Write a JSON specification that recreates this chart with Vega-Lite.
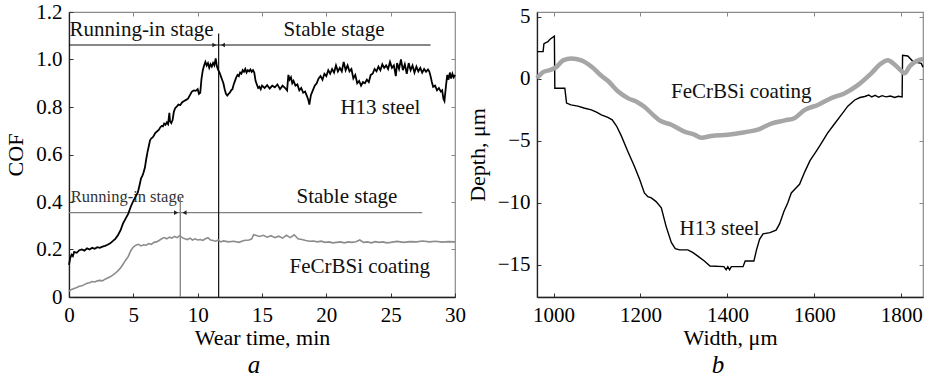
{
  "$schema": "https://vega.github.io/schema/vega-lite/v6.json",
  "padding": {"left": 4, "top": 0, "right": 2, "bottom": 2},
  "background": "white",
  "config": {
    "font": "'Liberation Serif', 'Times New Roman', Times, serif",
    "view": {"stroke": "#8a8a8a", "strokeWidth": 1.2},
    "axis": {"labelFont": "'Liberation Serif', 'Times New Roman', Times, serif", "titleFont": "'Liberation Serif', 'Times New Roman', Times, serif", "labelFontSize": 21, "titleFontSize": 22, "titleFontWeight": "normal", "labelColor": "#000", "titleColor": "#000", "grid": false, "domainColor": "#222", "domainWidth": 1.3, "tickColor": "#333", "tickSize": -4, "labelPadding": 11, "labelFlush": false, "labelOverlap": false},
    "title": {"font": "'Liberation Serif', 'Times New Roman', Times, serif"},
    "text": {"font": "'Liberation Serif', 'Times New Roman', Times, serif"}
  },
  "datasets": {
    "h13a": [
      {"t":0,"c":0.135},{"t":0.1,"c":0.165},{"t":0.2,"c":0.178},{"t":0.3,"c":0.172},{"t":0.4,"c":0.19},{"t":0.6,"c":0.186},{"t":0.8,"c":0.197},{"t":1.0,"c":0.2},{"t":1.2,"c":0.195},{"t":1.4,"c":0.205},{"t":1.6,"c":0.2},{"t":1.8,"c":0.207},{"t":2.0,"c":0.203},{"t":2.2,"c":0.21},{"t":2.4,"c":0.207},{"t":2.6,"c":0.212},{"t":2.8,"c":0.215},{"t":3.0,"c":0.22},{"t":3.2,"c":0.226},{"t":3.4,"c":0.235},{"t":3.6,"c":0.245},{"t":3.8,"c":0.26},{"t":4.0,"c":0.28},{"t":4.2,"c":0.31},{"t":4.4,"c":0.33},{"t":4.6,"c":0.35},{"t":4.8,"c":0.38},{"t":5.0,"c":0.405},{"t":5.2,"c":0.425},{"t":5.35,"c":0.44},{"t":5.5,"c":0.475},{"t":5.6,"c":0.5},{"t":5.7,"c":0.51},{"t":5.8,"c":0.525},{"t":5.9,"c":0.545},{"t":6.0,"c":0.58},{"t":6.1,"c":0.61},{"t":6.2,"c":0.635},{"t":6.3,"c":0.66},{"t":6.4,"c":0.668},{"t":6.5,"c":0.672},{"t":6.6,"c":0.68},{"t":6.7,"c":0.69},{"t":6.8,"c":0.695},{"t":6.9,"c":0.7},{"t":7.0,"c":0.705},{"t":7.1,"c":0.715},{"t":7.2,"c":0.72},{"t":7.3,"c":0.718},{"t":7.4,"c":0.73},{"t":7.5,"c":0.725},{"t":7.6,"c":0.735},{"t":7.7,"c":0.728},{"t":7.8,"c":0.775},{"t":7.85,"c":0.74},{"t":7.95,"c":0.732},{"t":8.05,"c":0.745},{"t":8.15,"c":0.78},{"t":8.25,"c":0.795},{"t":8.35,"c":0.8},{"t":8.5,"c":0.81},{"t":8.65,"c":0.808},{"t":8.8,"c":0.82},{"t":8.95,"c":0.825},{"t":9.1,"c":0.83},{"t":9.25,"c":0.835},{"t":9.4,"c":0.85},{"t":9.55,"c":0.865},{"t":9.7,"c":0.87},{"t":9.85,"c":0.868},{"t":10.0,"c":0.875},{"t":10.1,"c":0.855},{"t":10.2,"c":0.86},{"t":10.3,"c":0.92},{"t":10.4,"c":0.955},{"t":10.5,"c":0.975},{"t":10.6,"c":0.99},{"t":10.7,"c":0.975},{"t":10.8,"c":0.985},{"t":10.9,"c":0.965},{"t":11.0,"c":0.98},{"t":11.1,"c":0.97},{"t":11.2,"c":0.985},{"t":11.3,"c":0.975},{"t":11.4,"c":1.005},{"t":11.5,"c":0.97},{"t":11.6,"c":0.955},{"t":11.7,"c":0.945},{"t":11.8,"c":0.93},{"t":11.9,"c":0.915},{"t":12.0,"c":0.9},{"t":12.1,"c":0.875},{"t":12.2,"c":0.855},{"t":12.3,"c":0.848},{"t":12.4,"c":0.855},{"t":12.5,"c":0.86},{"t":12.6,"c":0.87},{"t":12.7,"c":0.875},{"t":12.8,"c":0.895},{"t":12.9,"c":0.91},{"t":13.0,"c":0.925},{"t":13.1,"c":0.935},{"t":13.2,"c":0.93},{"t":13.3,"c":0.945},{"t":13.4,"c":0.94},{"t":13.5,"c":0.955},{"t":13.6,"c":0.948},{"t":13.7,"c":0.96},{"t":13.8,"c":0.945},{"t":13.9,"c":0.955},{"t":14.0,"c":0.95},{"t":14.1,"c":0.958},{"t":14.2,"c":0.948},{"t":14.3,"c":0.955},{"t":14.4,"c":0.945},{"t":14.5,"c":0.91},{"t":14.6,"c":0.895},{"t":14.7,"c":0.88},{"t":14.8,"c":0.885},{"t":14.9,"c":0.875},{"t":15.0,"c":0.89},{"t":15.2,"c":0.88},{"t":15.4,"c":0.892},{"t":15.6,"c":0.878},{"t":15.8,"c":0.89},{"t":16.0,"c":0.883},{"t":16.2,"c":0.895},{"t":16.4,"c":0.875},{"t":16.6,"c":0.89},{"t":16.8,"c":0.88},{"t":16.95,"c":0.87},{"t":17.05,"c":0.935},{"t":17.15,"c":0.915},{"t":17.25,"c":0.925},{"t":17.35,"c":0.9},{"t":17.45,"c":0.91},{"t":17.6,"c":0.89},{"t":17.75,"c":0.895},{"t":17.9,"c":0.87},{"t":18.05,"c":0.88},{"t":18.2,"c":0.86},{"t":18.35,"c":0.865},{"t":18.5,"c":0.845},{"t":18.6,"c":0.83},{"t":18.68,"c":0.81},{"t":18.8,"c":0.85},{"t":18.95,"c":0.87},{"t":19.1,"c":0.89},{"t":19.25,"c":0.9},{"t":19.4,"c":0.92},{"t":19.55,"c":0.93},{"t":19.7,"c":0.915},{"t":19.85,"c":0.94},{"t":20.0,"c":0.93},{"t":20.15,"c":0.955},{"t":20.3,"c":0.94},{"t":20.45,"c":0.96},{"t":20.6,"c":0.945},{"t":20.75,"c":0.975},{"t":20.9,"c":0.95},{"t":21.05,"c":0.965},{"t":21.2,"c":0.95},{"t":21.35,"c":0.99},{"t":21.5,"c":0.955},{"t":21.65,"c":0.975},{"t":21.8,"c":0.95},{"t":21.95,"c":0.96},{"t":22.1,"c":0.92},{"t":22.25,"c":0.935},{"t":22.4,"c":0.9},{"t":22.55,"c":0.91},{"t":22.7,"c":0.89},{"t":22.85,"c":0.905},{"t":23.0,"c":0.9},{"t":23.15,"c":0.915},{"t":23.3,"c":0.905},{"t":23.45,"c":0.935},{"t":23.6,"c":0.94},{"t":23.75,"c":0.96},{"t":23.9,"c":0.95},{"t":24.05,"c":0.97},{"t":24.2,"c":0.955},{"t":24.35,"c":0.98},{"t":24.5,"c":0.965},{"t":24.65,"c":0.975},{"t":24.8,"c":0.96},{"t":24.95,"c":0.99},{"t":25.1,"c":0.965},{"t":25.25,"c":0.975},{"t":25.4,"c":0.93},{"t":25.5,"c":0.985},{"t":25.65,"c":0.96},{"t":25.8,"c":1.0},{"t":25.95,"c":0.955},{"t":26.1,"c":0.98},{"t":26.25,"c":0.94},{"t":26.4,"c":0.985},{"t":26.55,"c":0.955},{"t":26.7,"c":0.975},{"t":26.85,"c":0.945},{"t":27.0,"c":0.97},{"t":27.15,"c":0.95},{"t":27.3,"c":0.965},{"t":27.45,"c":0.945},{"t":27.6,"c":0.96},{"t":27.75,"c":0.948},{"t":27.9,"c":0.958},{"t":28.0,"c":0.95},{"t":28.1,"c":0.93},{"t":28.2,"c":0.905},{"t":28.3,"c":0.885},{"t":28.45,"c":0.89},{"t":28.6,"c":0.87},{"t":28.75,"c":0.88},{"t":28.9,"c":0.865},{"t":29.0,"c":0.87},{"t":29.1,"c":0.835},{"t":29.18,"c":0.825},{"t":29.3,"c":0.89},{"t":29.4,"c":0.935},{"t":29.5,"c":0.915},{"t":29.6,"c":0.945},{"t":29.7,"c":0.92},{"t":29.8,"c":0.94},{"t":29.9,"c":0.925},{"t":30.0,"c":0.935}
    ],
    "fea": [
      {"t":0,"c":0.025},{"t":0.2,"c":0.032},{"t":0.4,"c":0.036},{"t":0.6,"c":0.04},{"t":0.8,"c":0.045},{"t":1.0,"c":0.047},{"t":1.2,"c":0.052},{"t":1.4,"c":0.058},{"t":1.6,"c":0.06},{"t":1.8,"c":0.065},{"t":2.0,"c":0.063},{"t":2.2,"c":0.068},{"t":2.4,"c":0.07},{"t":2.6,"c":0.068},{"t":2.8,"c":0.075},{"t":3.0,"c":0.08},{"t":3.2,"c":0.085},{"t":3.4,"c":0.092},{"t":3.6,"c":0.1},{"t":3.8,"c":0.11},{"t":4.0,"c":0.122},{"t":4.2,"c":0.138},{"t":4.4,"c":0.155},{"t":4.6,"c":0.17},{"t":4.8,"c":0.195},{"t":5.0,"c":0.21},{"t":5.2,"c":0.218},{"t":5.4,"c":0.222},{"t":5.6,"c":0.215},{"t":5.8,"c":0.22},{"t":6.0,"c":0.218},{"t":6.2,"c":0.225},{"t":6.4,"c":0.222},{"t":6.6,"c":0.23},{"t":6.8,"c":0.232},{"t":7.0,"c":0.238},{"t":7.2,"c":0.245},{"t":7.4,"c":0.25},{"t":7.6,"c":0.245},{"t":7.8,"c":0.252},{"t":8.0,"c":0.248},{"t":8.2,"c":0.255},{"t":8.4,"c":0.25},{"t":8.6,"c":0.258},{"t":8.8,"c":0.25},{"t":9.0,"c":0.245},{"t":9.2,"c":0.242},{"t":9.4,"c":0.248},{"t":9.6,"c":0.24},{"t":9.8,"c":0.245},{"t":10.0,"c":0.24},{"t":10.2,"c":0.242},{"t":10.4,"c":0.238},{"t":10.6,"c":0.245},{"t":10.8,"c":0.25},{"t":11.0,"c":0.24},{"t":11.2,"c":0.238},{"t":11.4,"c":0.235},{"t":11.6,"c":0.24},{"t":11.8,"c":0.232},{"t":12.0,"c":0.236},{"t":12.4,"c":0.232},{"t":12.8,"c":0.235},{"t":13.2,"c":0.23},{"t":13.6,"c":0.238},{"t":14.0,"c":0.24},{"t":14.2,"c":0.245},{"t":14.35,"c":0.262},{"t":14.5,"c":0.26},{"t":14.8,"c":0.255},{"t":15.1,"c":0.26},{"t":15.4,"c":0.252},{"t":15.7,"c":0.258},{"t":16.0,"c":0.25},{"t":16.3,"c":0.256},{"t":16.6,"c":0.248},{"t":16.9,"c":0.26},{"t":17.2,"c":0.25},{"t":17.5,"c":0.262},{"t":17.8,"c":0.245},{"t":18.1,"c":0.242},{"t":18.4,"c":0.238},{"t":18.7,"c":0.235},{"t":19.0,"c":0.236},{"t":19.3,"c":0.232},{"t":19.6,"c":0.235},{"t":19.9,"c":0.23},{"t":20.2,"c":0.232},{"t":20.5,"c":0.228},{"t":20.8,"c":0.23},{"t":21.1,"c":0.232},{"t":21.4,"c":0.228},{"t":21.7,"c":0.232},{"t":22.0,"c":0.23},{"t":22.3,"c":0.233},{"t":22.6,"c":0.24},{"t":22.9,"c":0.23},{"t":23.2,"c":0.232},{"t":23.5,"c":0.228},{"t":23.8,"c":0.233},{"t":24.1,"c":0.23},{"t":24.4,"c":0.232},{"t":24.7,"c":0.228},{"t":25.0,"c":0.23},{"t":25.5,"c":0.234},{"t":26.0,"c":0.23},{"t":26.5,"c":0.233},{"t":27.0,"c":0.232},{"t":27.5,"c":0.236},{"t":28.0,"c":0.232},{"t":28.5,"c":0.235},{"t":29.0,"c":0.231},{"t":29.5,"c":0.233},{"t":30.0,"c":0.232}
    ],
    "rulesABlack": [
      {"x":0,"x2":28.1,"y":1.061,"y2":1.061},
      {"x":11.63,"x2":11.63,"y":0,"y2":1.11}
    ],
    "rulesAGrey": [
      {"x":0,"x2":27.45,"y":0.355,"y2":0.355},
      {"x":8.65,"x2":8.65,"y":0,"y2":0.42}
    ],
    "arrowsA": [
      {"t":11.3,"c":1.061,"dir":"right"},{"t":11.96,"c":1.061,"dir":"left"},
      {"t":8.32,"c":0.355,"dir":"right"},{"t":8.98,"c":0.355,"dir":"left"}
    ],
    "textA": [
      {"t":5.64,"c":1.124,"label":"Running-in stage"},
      {"t":20.6,"c":1.124,"label":"Stable stage"},
      {"t":24.2,"c":0.796,"label":"H13 steel"},
      {"t":21.6,"c":0.422,"label":"Stable stage"},
      {"t":22.6,"c":0.125,"label":"FeCrBSi coating"}
    ],
    "textASmall": [
      {"t":4.54,"c":0.422,"label":"Running-in stage"}
    ],
    "h13b": [
      {"w":962,"d":2.2},{"w":976,"d":2.2},{"w":978,"d":2.85},{"w":987,"d":3.0},{"w":992,"d":3.2},{"w":1002,"d":3.45},{"w":1003,"d":-0.75},{"w":1026,"d":-0.75},{"w":1030,"d":-1.95},{"w":1040,"d":-2.1},{"w":1056,"d":-2.2},{"w":1070,"d":-2.35},{"w":1087,"d":-2.5},{"w":1100,"d":-2.7},{"w":1110,"d":-2.9},{"w":1125,"d":-3.1},{"w":1135,"d":-3.3},{"w":1145,"d":-3.8},{"w":1156,"d":-4.6},{"w":1171,"d":-5.85},{"w":1186,"d":-7.05},{"w":1198,"d":-8.1},{"w":1209,"d":-9.2},{"w":1217,"d":-9.5},{"w":1225,"d":-9.6},{"w":1236,"d":-9.9},{"w":1248,"d":-10.4},{"w":1259,"d":-11.9},{"w":1271,"d":-13.2},{"w":1280,"d":-13.7},{"w":1290,"d":-13.8},{"w":1309,"d":-13.8},{"w":1320,"d":-14.0},{"w":1332,"d":-14.3},{"w":1347,"d":-14.7},{"w":1360,"d":-15.1},{"w":1392,"d":-15.15},{"w":1397,"d":-15.4},{"w":1401,"d":-15.15},{"w":1405,"d":-15.4},{"w":1409,"d":-15.15},{"w":1436,"d":-15.15},{"w":1441,"d":-14.7},{"w":1461,"d":-14.7},{"w":1467,"d":-13.8},{"w":1474,"d":-12.95},{"w":1482,"d":-12.5},{"w":1498,"d":-12.4},{"w":1512,"d":-12.2},{"w":1520,"d":-11.7},{"w":1530,"d":-10.7},{"w":1539,"d":-10.0},{"w":1547,"d":-9.2},{"w":1555,"d":-8.9},{"w":1566,"d":-8.5},{"w":1578,"d":-7.5},{"w":1590,"d":-6.6},{"w":1605,"d":-5.8},{"w":1616,"d":-5.2},{"w":1630,"d":-4.4},{"w":1647,"d":-3.6},{"w":1662,"d":-2.9},{"w":1677,"d":-2.2},{"w":1693,"d":-1.7},{"w":1705,"d":-1.5},{"w":1716,"d":-1.42},{"w":1725,"d":-1.3},{"w":1732,"d":-1.45},{"w":1740,"d":-1.33},{"w":1748,"d":-1.48},{"w":1756,"d":-1.35},{"w":1765,"d":-1.45},{"w":1775,"d":-1.38},{"w":1785,"d":-1.5},{"w":1793,"d":-1.4},{"w":1802,"d":-1.45},{"w":1803,"d":1.9},{"w":1815,"d":1.85},{"w":1827,"d":1.4},{"w":1846,"d":1.25},{"w":1850,"d":0.95}
    ],
    "feb": [
      {"w":962,"d":0.05},{"w":976,"d":0.55},{"w":995,"d":0.75},{"w":1006,"d":0.95},{"w":1022,"d":1.5},{"w":1041,"d":1.65},{"w":1064,"d":1.5},{"w":1087,"d":1.0},{"w":1110,"d":0.25},{"w":1125,"d":-0.15},{"w":1148,"d":-1.0},{"w":1171,"d":-1.55},{"w":1194,"d":-1.9},{"w":1209,"d":-2.25},{"w":1229,"d":-2.9},{"w":1244,"d":-3.35},{"w":1271,"d":-3.7},{"w":1301,"d":-4.25},{"w":1324,"d":-4.5},{"w":1340,"d":-4.75},{"w":1363,"d":-4.6},{"w":1401,"d":-4.5},{"w":1440,"d":-4.3},{"w":1470,"d":-4.1},{"w":1501,"d":-3.6},{"w":1532,"d":-3.35},{"w":1555,"d":-3.15},{"w":1578,"d":-2.5},{"w":1608,"d":-2.1},{"w":1639,"d":-1.55},{"w":1670,"d":-1.15},{"w":1700,"d":-0.5},{"w":1731,"d":0.45},{"w":1754,"d":1.25},{"w":1769,"d":1.5},{"w":1785,"d":1.15},{"w":1800,"d":0.65},{"w":1808,"d":0.45},{"w":1819,"d":1.0},{"w":1835,"d":1.45},{"w":1850,"d":1.6}
    ],
    "textB": [
      {"w":1432,"d":-1.07,"label":"FeCrBSi coating"},
      {"w":1382,"d":-12.1,"label":"H13 steel"}
    ]
  },
  "spacing": 82,
  "bounds": "flush",
  "hconcat": [
    {
      "width": 386,
      "height": 285,
      "title": {"text": "a", "orient": "bottom", "fontStyle": "italic", "fontWeight": "normal", "fontSize": 25, "offset": 5, "dx": -8, "color": "#000"},
      "resolve": {"axis": {"x": "independent", "y": "independent"}},
      "layer": [
        {
          "data": {"name": "textASmall"},
          "mark": {"type": "text", "fontSize": 16.5, "color": "#333", "baseline": "middle", "align": "center"},
          "encoding": {
            "x": {"field": "t", "type": "quantitative", "scale": {"domain": [0, 30], "nice": false, "zero": false}, "axis": null},
            "y": {"field": "c", "type": "quantitative", "scale": {"domain": [0, 1.2], "nice": false}, "axis": null},
            "text": {"field": "label"}
          }
        },
        {
          "data": {"name": "textA"},
          "mark": {"type": "text", "fontSize": 21, "color": "#111", "baseline": "middle", "align": "center"},
          "encoding": {
            "x": {"field": "t", "type": "quantitative", "axis": null},
            "y": {"field": "c", "type": "quantitative", "axis": null},
            "text": {"field": "label"}
          }
        },
        {
          "data": {"name": "rulesAGrey"},
          "mark": {"type": "rule", "color": "#808080", "strokeWidth": 1.3},
          "encoding": {
            "x": {"field": "x", "type": "quantitative", "axis": null},
            "x2": {"field": "x2"},
            "y": {"field": "y", "type": "quantitative", "axis": null},
            "y2": {"field": "y2"}
          }
        },
        {
          "data": {"name": "rulesABlack"},
          "mark": {"type": "rule", "color": "#111", "strokeWidth": 1.2},
          "encoding": {
            "x": {"field": "x", "type": "quantitative", "axis": null},
            "x2": {"field": "x2"},
            "y": {"field": "y", "type": "quantitative", "axis": null},
            "y2": {"field": "y2"}
          }
        },
        {
          "data": {"name": "arrowsA"},
          "mark": {"type": "point", "filled": true, "size": 22, "color": "#222", "opacity": 1},
          "encoding": {
            "x": {"field": "t", "type": "quantitative", "axis": null},
            "y": {"field": "c", "type": "quantitative", "axis": null},
            "shape": {"field": "dir", "type": "nominal", "scale": {"domain": ["right", "left"], "range": ["triangle-right", "triangle-left"]}, "legend": null}
          }
        },
        {
          "data": {"name": "fea"},
          "mark": {"type": "line", "color": "#8c8c8c", "strokeWidth": 1.6},
          "encoding": {
            "x": {"field": "t", "type": "quantitative", "axis": null},
            "y": {"field": "c", "type": "quantitative", "axis": null}
          }
        },
        {
          "data": {"name": "h13a"},
          "mark": {"type": "line", "color": "#000", "strokeWidth": 1.8},
          "encoding": {
            "x": {"field": "t", "type": "quantitative", "axis": {"orient": "bottom", "values": [0, 5, 10, 15, 20, 25, 30], "format": "d", "title": "Wear time, min", "titlePadding": 2}},
            "y": {"field": "c", "type": "quantitative", "axis": {"orient": "left", "values": [0, 0.2, 0.4, 0.6, 0.8, 1.0, 1.2], "labelExpr": "datum.value === 0 ? '0' : format(datum.value, '.1f')", "title": "COF", "titlePadding": 8}}
          }
        },
        {
          "data": {"name": "h13a"},
          "mark": {"type": "point", "opacity": 0},
          "encoding": {
            "x": {"field": "t", "type": "quantitative", "axis": {"orient": "top", "values": [5, 10, 15, 20, 25], "labels": false, "domain": false, "title": null, "tickColor": "#888"}},
            "y": {"field": "c", "type": "quantitative", "axis": {"orient": "right", "values": [0.2, 0.4, 0.6, 0.8, 1.0], "labels": false, "domain": false, "title": null, "tickColor": "#888"}}
          }
        }
      ]
    },
    {
      "width": 386,
      "height": 285,
      "title": {"text": "b", "orient": "bottom", "fontStyle": "italic", "fontWeight": "normal", "fontSize": 25, "offset": 5, "dx": -12, "color": "#000"},
      "resolve": {"axis": {"x": "independent", "y": "independent"}},
      "layer": [
        {
          "data": {"name": "textB"},
          "mark": {"type": "text", "fontSize": 21, "color": "#111", "baseline": "middle", "align": "center"},
          "encoding": {
            "x": {"field": "w", "type": "quantitative", "scale": {"domain": [962, 1850], "nice": false, "zero": false}, "axis": null},
            "y": {"field": "d", "type": "quantitative", "scale": {"domain": [-17.6, 5.4], "nice": false, "zero": false}, "axis": null},
            "text": {"field": "label"}
          }
        },
        {
          "data": {"name": "h13b"},
          "mark": {"type": "line", "color": "#000", "strokeWidth": 1.4},
          "encoding": {
            "x": {"field": "w", "type": "quantitative", "axis": {"orient": "bottom", "values": [1000, 1200, 1400, 1600, 1800], "format": "d", "title": "Width, μm", "titlePadding": 2}},
            "y": {"field": "d", "type": "quantitative", "axis": {"orient": "left", "values": [-15, -10, -5, 0, 5], "format": "d", "title": "Depth, μm", "titlePadding": 8}}
          }
        },
        {
          "data": {"name": "feb"},
          "mark": {"type": "line", "color": "#a6a6a6", "strokeWidth": 4.5, "interpolate": "monotone"},
          "encoding": {
            "x": {"field": "w", "type": "quantitative", "axis": null},
            "y": {"field": "d", "type": "quantitative", "axis": null}
          }
        },
        {
          "data": {"name": "feb"},
          "mark": {"type": "point", "opacity": 0},
          "encoding": {
            "x": {"field": "w", "type": "quantitative", "axis": {"orient": "top", "values": [1000, 1200, 1400, 1600, 1800], "labels": false, "domain": false, "title": null, "tickColor": "#888"}},
            "y": {"field": "d", "type": "quantitative", "axis": {"orient": "right", "values": [-15, -10, -5, 0, 5], "labels": false, "domain": false, "title": null, "tickColor": "#888"}}
          }
        }
      ]
    }
  ]
}
